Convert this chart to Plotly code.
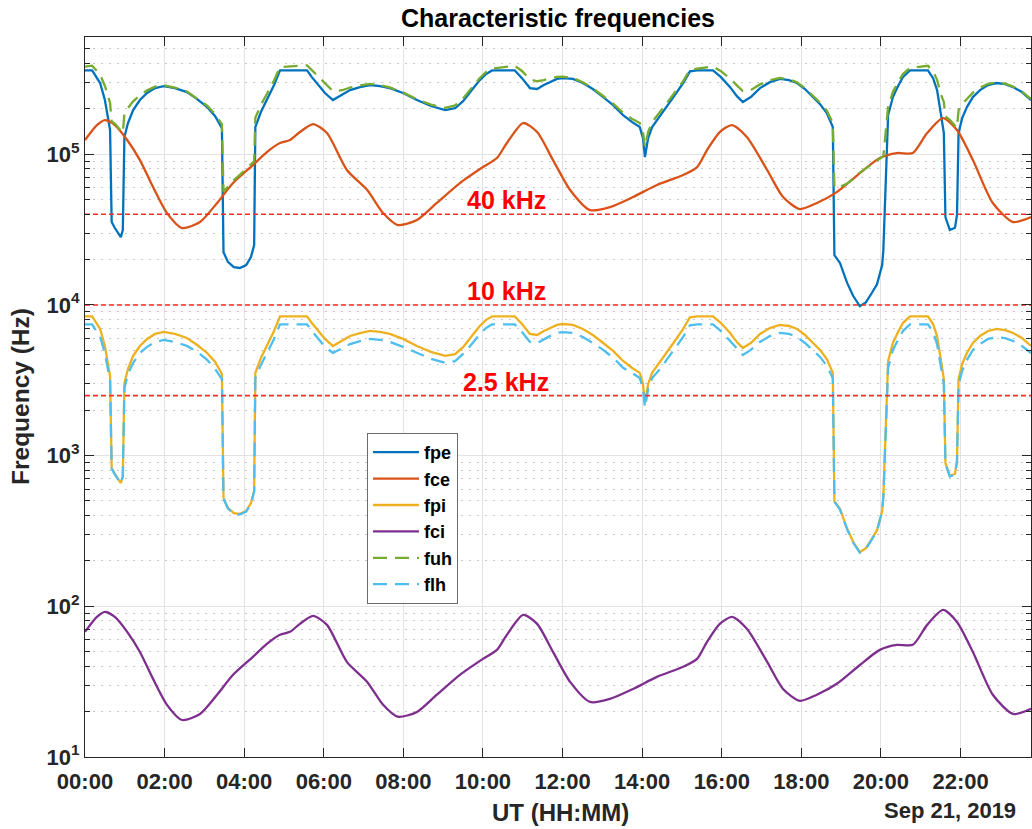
import math
import plotly.graph_objects as go

# ---------------- data ----------------
# fast-varying series time base (hours UT)
t_hf = [0.00, 0.18, 0.38, 0.50, 0.63, 0.67, 0.75, 0.90, 0.95, 0.99,
        1.08, 1.21, 1.38, 1.56, 1.76, 1.98, 2.26, 2.56, 2.81, 3.07,
        3.27, 3.44, 3.48, 3.59, 3.74, 3.89, 4.05, 4.17, 4.25, 4.28,
        4.42, 4.57, 4.75, 4.90, 5.58, 5.70, 5.83, 6.03, 6.23, 6.46,
        6.66, 6.91, 7.16, 7.41, 7.66, 7.99, 8.34, 8.69, 9.05, 9.30,
        9.50, 9.72, 9.92, 10.08, 10.23, 10.80, 10.98, 11.18, 11.36, 11.53,
        11.68, 11.86, 12.01, 12.26, 12.51, 12.76, 13.02, 13.27, 13.52, 13.74,
        13.94, 14.02, 14.07, 14.15, 14.25, 14.45, 14.62, 14.82, 15.03, 15.20,
        15.38, 15.78, 15.98, 16.21, 16.38, 16.53, 16.73, 16.96, 17.21, 17.46,
        17.69, 17.89, 18.09, 18.29, 18.47, 18.64, 18.79, 18.83, 18.97, 19.15,
        19.30, 19.47, 19.62, 19.77, 19.90, 20.03, 20.06, 20.18, 20.30, 20.43,
        20.55, 20.73, 21.18, 21.31, 21.41, 21.51, 21.58, 21.62, 21.73, 21.86,
        21.91, 21.95, 22.04, 22.16, 22.31, 22.49, 22.69, 22.91, 23.12, 23.32,
        23.54, 23.77]

fpe = [360000, 360000, 297000, 229000, 145000, 35500, 32400, 28200, 31400, 130000,
       161000, 196500, 229000, 255000, 275000, 283500, 275000, 258700, 233000, 205700,
       179000, 149200, 22400, 19300, 17800, 17600, 18400, 20800, 25000, 151500,
       190600, 229000, 288000, 360000, 360000, 325000, 297000, 255000, 229000, 247000,
       266700, 279000, 288000, 283500, 275000, 255000, 229000, 209000, 196500, 202000,
       225000, 266700, 310800, 341000, 360000, 360000, 320000, 275000, 271000, 288000,
       301000, 316000, 320000, 316000, 297000, 271000, 239600, 212000, 182000, 164000,
       151500, 128000, 95800, 128000, 151500, 179000, 205700, 247000, 297000, 355000,
       360000, 360000, 325000, 279000, 243000, 222000, 239600, 275000, 301000, 316000,
       310800, 297000, 271000, 239600, 215000, 187700, 151500, 21400, 19000, 14000,
       11500, 9800, 10400, 12000, 13700, 18400, 23100, 182000, 239600, 283500,
       325000, 360000, 360000, 320000, 266700, 182000, 138000, 38300, 31400, 32500,
       39500, 138000, 174000, 205700, 239600, 266700, 288000, 297000, 292000, 279000,
       258700, 229000]

fpi = [8400, 8400, 6930, 5340, 3380, 828, 756, 658, 733, 3030,
       3760, 4590, 5340, 5950, 6420, 6620, 6420, 6040, 5440, 4800,
       4180, 3480, 523, 450, 415, 411, 429, 485, 583, 3540,
       4450, 5340, 6720, 8400, 8400, 7580, 6930, 5950, 5340, 5760,
       6220, 6510, 6720, 6620, 6420, 5950, 5340, 4880, 4590, 4710,
       5250, 6220, 7250, 7960, 8400, 8400, 7470, 6420, 6320, 6720,
       7020, 7370, 7470, 7370, 6930, 6320, 5590, 4950, 4250, 3830,
       3540, 2990, 2240, 2990, 3540, 4180, 4800, 5760, 6930, 8280,
       8400, 8400, 7580, 6510, 5670, 5180, 5590, 6420, 7020, 7370,
       7250, 6930, 6320, 5590, 5020, 4380, 3540, 499, 443, 327,
       268, 229, 243, 280, 320, 429, 539, 4250, 5590, 6620,
       7580, 8400, 8400, 7470, 6220, 4250, 3220, 894, 733, 758,
       922, 3220, 4060, 4800, 5590, 6220, 6720, 6930, 6810, 6510,
       6040, 5340]

fuh = [381000, 387000, 338000, 284000, 219000, 165000, 159500, 141800, 138800, 183900,
       203400, 224400, 246600, 265500, 280800, 287000, 277300, 260800, 235600, 209900,
       184800, 157800, 56600, 61000, 67400, 72900, 79600, 84800, 89600, 174900,
       212700, 251300, 309000, 379100, 388900, 361600, 334500, 292100, 262300, 266000,
       277300, 286300, 293100, 287000, 277700, 257300, 231900, 213600, 203500, 210900,
       234600, 276700, 320900, 351400, 370700, 385600, 357100, 314000, 305200, 310700,
       316800, 326500, 327700, 320800, 300500, 274300, 243500, 216800, 188500, 172000,
       161300, 139800, 111500, 140900, 163200, 190200, 216500, 256900, 305800, 363300,
       369300, 382100, 355800, 318600, 286400, 262700, 266500, 290800, 309900, 320900,
       314600, 300300, 274500, 244000, 220300, 194600, 161300, 60000, 60900, 64000,
       68400, 75600, 80400, 85600, 91000, 96200, 97200, 206400, 259700, 301300,
       340600, 374100, 386400, 355000, 311600, 248200, 222000, 178100, 169200, 154900,
       150000, 195300, 214900, 232500, 256500, 276200, 293400, 300100, 294500, 281200,
       261300, 232200]

flh = [7430, 7430, 6130, 4800, 3130, 820, 750, 652, 726, 2800,
       3480, 4130, 4800, 5270, 5680, 5860, 5680, 5350, 4900, 4320,
       3760, 3220, 518, 446, 411, 407, 425, 480, 577, 3270,
       4000, 4800, 5950, 7430, 7430, 6710, 6130, 5270, 4800, 5180,
       5500, 5760, 5950, 5860, 5680, 5270, 4800, 4390, 4130, 4240,
       4730, 5500, 6420, 7040, 7430, 7430, 6610, 5680, 5590, 5950,
       6210, 6520, 6610, 6520, 6130, 5590, 5030, 4460, 3830, 3540,
       3270, 2770, 2080, 2770, 3270, 3760, 4320, 5180, 6130, 7330,
       7430, 7430, 6710, 5760, 5100, 4660, 5030, 5680, 6210, 6520,
       6420, 6130, 5590, 5030, 4520, 3940, 3270, 494, 439, 324,
       265, 227, 241, 277, 317, 425, 534, 3830, 5030, 5860,
       6710, 7430, 7430, 6610, 5500, 3830, 2980, 885, 726, 750,
       913, 2980, 3650, 4320, 5030, 5500, 5950, 6130, 6030, 5760,
       5350, 4800]

# slowly varying series time base (hours UT)
t_lf = [0.00, 0.30, 0.50, 0.75, 1.06, 1.38, 1.71, 2.06, 2.44, 2.89,
        3.32, 3.72, 4.22, 4.57, 4.90, 5.15, 5.40, 5.73, 6.08, 6.58,
        7.09, 7.49, 7.86, 8.34, 8.84, 9.42, 10.00, 10.35, 10.60, 11.01,
        11.36, 11.76, 12.19, 12.69, 13.19, 13.77, 14.37, 15.03, 15.38, 15.63,
        15.95, 16.26, 16.63, 17.14, 17.54, 17.96, 18.39, 18.89, 19.47, 19.97,
        20.40, 20.80, 21.16, 21.56, 21.91, 22.31, 22.81, 23.32, 23.77]

fce = [124300, 156200, 168700, 156200, 124300, 91500, 60600, 40700, 32400, 35500,
       47500, 64400, 84800, 103400, 118700, 124300, 140400, 158600, 138200, 78600,
       57900, 40700, 33900, 36600, 47500, 64400, 82200, 94400, 118700, 161100,
       140400, 91500, 57900, 42600, 44600, 52000, 62500, 72800, 82200, 106600,
       140400, 156200, 130100, 78600, 52000, 43300, 47500, 56100, 75000, 94400,
       101900, 101900, 138200, 173900, 144700, 91500, 47500, 35500, 38300]

fci = [67.7, 85.1, 91.9, 85.1, 67.7, 49.8, 33.0, 22.2, 17.6, 19.3,
       25.9, 35.1, 46.2, 56.3, 64.7, 67.7, 76.5, 86.4, 75.3, 42.8,
       31.5, 22.2, 18.5, 19.9, 25.9, 35.1, 44.8, 51.4, 64.7, 87.7,
       76.5, 49.8, 31.5, 23.2, 24.3, 28.3, 34.0, 39.7, 44.8, 58.1,
       76.5, 85.1, 70.9, 42.8, 28.3, 23.6, 25.9, 30.6, 40.8, 51.4,
       55.5, 55.5, 75.3, 94.7, 78.8, 49.8, 25.9, 19.3, 20.9]

ref_values = [40000, 10000, 2500]
ref_labels = ["40 kHz", "10 kHz", "2.5 kHz"]

x_tickvals = [0, 2, 4, 6, 8, 10, 12, 14, 16, 18, 20, 22]
x_ticktext = ["00:00", "02:00", "04:00", "06:00", "08:00", "10:00",
              "12:00", "14:00", "16:00", "18:00", "20:00", "22:00"]
y_tickvals = [10, 100, 1000, 10000, 100000]
y_ticktext = ["10<sup>1</sup>", "10<sup>2</sup>", "10<sup>3</sup>",
              "10<sup>4</sup>", "10<sup>5</sup>"]
date_label = "Sep 21, 2019"

# ---------------- styling ----------------
FONT = "Liberation Sans, Arial, Helvetica, sans-serif"
AX = "#262626"
X_END = 23.77
Y_TOP = 6e5

colors = {"fpe": "#0072BD", "fce": "#D95319", "fpi": "#EDB120",
          "fci": "#7E2F8E", "fuh": "#77AC30", "flh": "#4DBEEE"}
LW = 2.3
DASH = "14px,8px"

fig = go.Figure()
fig.add_trace(go.Scatter(x=t_hf, y=fpe, name="fpe", mode="lines",
                         line=dict(color=colors["fpe"], width=LW)))
fig.add_trace(go.Scatter(x=t_lf, y=fce, name="fce", mode="lines",
                         line=dict(color=colors["fce"], width=LW, shape="spline", smoothing=0.7)))
fig.add_trace(go.Scatter(x=t_hf, y=fpi, name="fpi", mode="lines",
                         line=dict(color=colors["fpi"], width=LW)))
fig.add_trace(go.Scatter(x=t_lf, y=fci, name="fci", mode="lines",
                         line=dict(color=colors["fci"], width=LW, shape="spline", smoothing=0.7)))
fig.add_trace(go.Scatter(x=t_hf, y=fuh, name="fuh", mode="lines",
                         line=dict(color=colors["fuh"], width=LW, dash=DASH)))
fig.add_trace(go.Scatter(x=t_hf, y=flh, name="flh", mode="lines",
                         line=dict(color=colors["flh"], width=LW, dash=DASH)))

for v in ref_values:
    fig.add_trace(go.Scatter(x=[0, X_END], y=[v, v], mode="lines", showlegend=False,
                             hoverinfo="skip",
                             line=dict(color="#ff2b2b", width=1.6, dash="5px,3px")))

annotations = []
for v, lab in zip(ref_values, ref_labels):
    annotations.append(dict(x=10.58, y=math.log10(v), xref="x", yref="y", text=lab,
                            showarrow=False, yshift=14, xanchor="center", yanchor="middle",
                            font=dict(family=FONT, size=25, color="#ff0000", weight="bold")))

annotations.append(dict(x=(560 - 85) / 946, y=1 - (812 - 37) / 720, xref="paper", yref="paper",
                        text="UT (HH:MM)", showarrow=False, xanchor="center", yanchor="middle",
                        font=dict(family=FONT, size=24, color=AX, weight="bold")))
annotations.append(dict(x=(1018 - 85) / 946, y=1 - (810 - 37) / 720, xref="paper", yref="paper",
                        text=date_label, showarrow=False, xanchor="right", yanchor="middle",
                        font=dict(family=FONT, size=22, color=AX, weight="bold")))
annotations.append(dict(x=(20 - 85) / 946, y=0.5, xref="paper", yref="paper",
                        text="Frequency (Hz)", showarrow=False, textangle=-90,
                        xanchor="center", yanchor="middle",
                        font=dict(family=FONT, size=24.5, color=AX, weight="bold")))

minor_vals = [m * 10 ** k for k in range(1, 6) for m in range(2, 10)]

fig.update_layout(
    width=1032, height=829, autosize=False,
    margin=dict(l=85, r=1, t=37, b=72, pad=0),
    paper_bgcolor="white", plot_bgcolor="white",
    title=dict(text="Characteristic frequencies", x=(558) / 1032, xanchor="center",
               y=1 - 18 / 829, yanchor="middle", xref="container", yref="container",
               font=dict(family=FONT, size=25, color="black", weight="bold")),
    font=dict(family=FONT, color=AX),
    showlegend=True,
    legend=dict(x=(367 - 85) / 946, y=1 - (433 - 37) / 720, xanchor="left", yanchor="top",
                bgcolor="white", bordercolor="#6b6b6b", borderwidth=1,
                font=dict(family=FONT, size=18, color="black", weight="bold"),
                itemwidth=46, tracegroupgap=0),
    annotations=annotations,
)

fig.update_xaxes(range=[0, X_END], tickmode="array", tickvals=x_tickvals, ticktext=x_ticktext,
                 ticks="inside", ticklen=9, tickwidth=1, tickcolor=AX,
                 showline=True, linecolor=AX, linewidth=1, mirror="allticks",
                 showgrid=True, gridcolor="#e2e2e2", gridwidth=1, zeroline=False,
                 ticklabelstandoff=5,
                 tickfont=dict(family=FONT, size=22, color=AX, weight="bold"))
fig.update_yaxes(type="log", range=[1, math.log10(Y_TOP)], tickmode="array",
                 tickvals=y_tickvals, ticktext=y_ticktext,
                 ticks="inside", ticklen=9, tickwidth=1, tickcolor=AX,
                 showline=True, linecolor=AX, linewidth=1, mirror="allticks",
                 showgrid=True, gridcolor="#e2e2e2", gridwidth=1, zeroline=False,
                 tickfont=dict(family=FONT, size=22, color=AX, weight="bold"),
                 minor=dict(tickmode="array", tickvals=minor_vals, ticks="inside", ticklen=5,
                            tickcolor=AX, showgrid=True, gridcolor="#c6c6c6",
                            griddash="2px,6px", gridwidth=1))

fig.write_html("out.html")
